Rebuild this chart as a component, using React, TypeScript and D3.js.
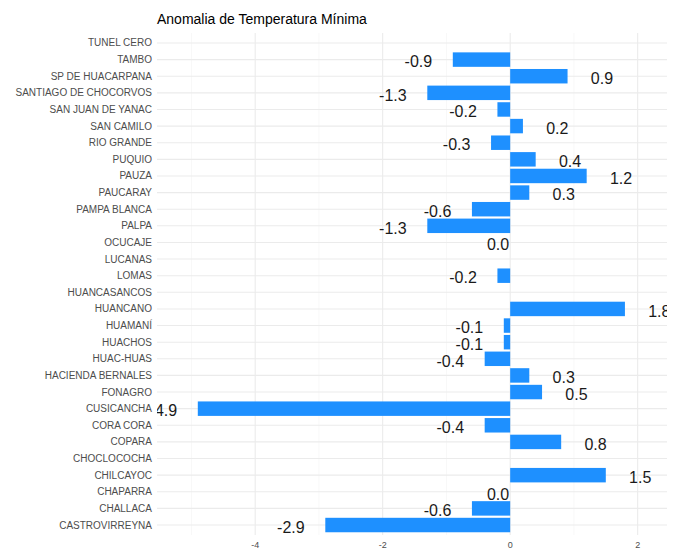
import React from "react";
import * as d3 from "d3";

const categories = [
  "TUNEL CERO", "TAMBO", "SP DE HUACARPANA", "SANTIAGO DE CHOCORVOS", "SAN JUAN DE YANAC",
  "SAN CAMILO", "RIO GRANDE", "PUQUIO", "PAUZA", "PAUCARAY", "PAMPA BLANCA", "PALPA",
  "OCUCAJE", "LUCANAS", "LOMAS", "HUANCASANCOS", "HUANCANO", "HUAMANÍ", "HUACHOS",
  "HUAC-HUAS", "HACIENDA BERNALES", "FONAGRO", "CUSICANCHA", "CORA CORA", "COPARA",
  "CHOCLOCOCHA", "CHILCAYOC", "CHAPARRA", "CHALLACA", "CASTROVIRREYNA",
];
const values: (number | null)[] = [
  null, -0.9, 0.9, -1.3, -0.2,
  0.2, -0.3, 0.4, 1.2, 0.3, -0.6, -1.3,
  0.0, null, -0.2, null, 1.8, -0.1, -0.1,
  -0.4, 0.3, 0.5, -4.9, -0.4, 0.8,
  null, 1.5, 0.0, -0.6, -2.9,
];
const xTicks = [-4, -2, 0, 2];
const xMinor = [-5, -3, -1, 1];
const title = "Anomalia de Temperatura Mínima";

const W = 681, H = 549;
const panel = { left: 157, right: 667, top: 33, bottom: 535 };

export default function App() {
  const x = d3.scaleLinear().domain([-5.54, 2.46]).range([panel.left, panel.right]);
  const y = d3.scalePoint<string>().domain(categories).range([panel.top, panel.bottom]).padding(0.6);
  const barH = y.step() * 0.87;
  const font = "Liberation Sans, Arial, sans-serif";
  return (
    <svg width={W} height={H} style={{ position: "absolute", left: 0, top: 0, background: "#fff" }} fontFamily={font}>
      <defs>
        <clipPath id="pc">
          <rect x={panel.left} y={panel.top} width={panel.right - panel.left} height={panel.bottom - panel.top} />
        </clipPath>
      </defs>
      <rect x={0} y={0} width={W} height={H} fill="#fff" />
      {xMinor.map((t) => (
        <line key={"mi" + t} x1={x(t)} x2={x(t)} y1={panel.top} y2={panel.bottom} stroke="#f2f2f2" strokeWidth={0.6} />
      ))}
      {xTicks.map((t) => (
        <line key={"ma" + t} x1={x(t)} x2={x(t)} y1={panel.top} y2={panel.bottom} stroke="#ebebeb" strokeWidth={1.1} />
      ))}
      {categories.map((c) => (
        <line key={"g" + c} x1={panel.left} x2={panel.right} y1={y(c)} y2={y(c)} stroke="#ebebeb" strokeWidth={1.1} />
      ))}
      <g clipPath="url(#pc)">
        {categories.map((c, i) => {
          const v = values[i];
          if (v === null) return null;
          const x0 = x(Math.min(0, v));
          const x1 = x(Math.max(0, v));
          return (
            <rect key={"b" + c} x={x0} y={(y(c) as number) - barH / 2} width={Math.max(0, x1 - x0)} height={barH} fill="#1E90FF" />
          );
        })}
        {categories.map((c, i) => {
          const v = values[i];
          if (v === null) return null;
          const lx = v === 0 ? x(0) - 1 : x(v + (v > 0 ? 0.54 : -0.54));
          return (
            <text key={"l" + c} x={lx} y={(y(c) as number) + 2} dy="0.36em" fontSize={16}
              textAnchor={v === 0 ? "end" : "middle"} fill="#1a1a1a">
              {v.toFixed(1)}
            </text>
          );
        })}
      </g>
      {categories.map((c) => (
        <text key={"c" + c} x={152} y={y(c)} dy="0.35em" fontSize={10} textAnchor="end" fill="#4d4d4d">
          {c}
        </text>
      ))}
      {xTicks.map((t) => (
        <text key={"t" + t} x={x(t)} y={545} dy="0.35em" fontSize={9} textAnchor="middle" fill="#4d4d4d">
          {String(t)}
        </text>
      ))}
      <text x={157} y={24} fontSize={14} fill="#000">{title}</text>
    </svg>
  );
}
